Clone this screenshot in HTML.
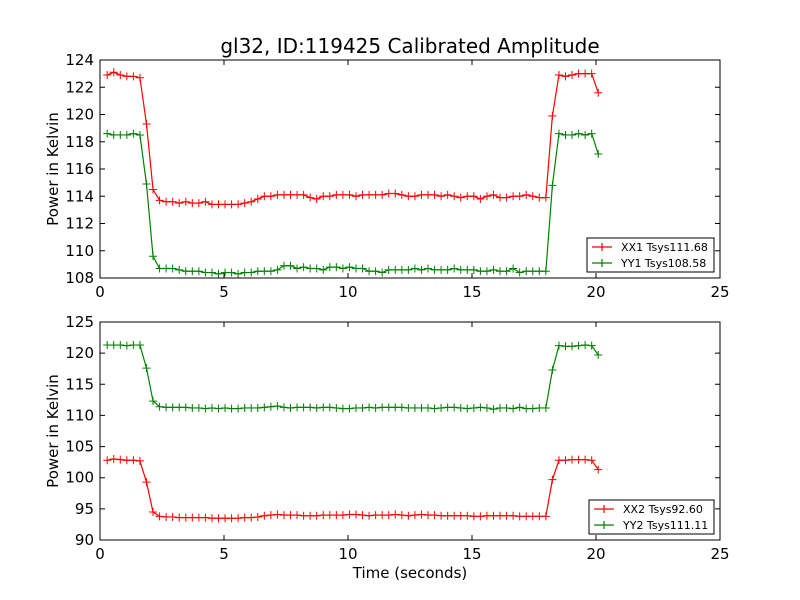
<!DOCTYPE html>
<html><head><meta charset="utf-8"><style>
body{margin:0;background:#fff;}
svg{display:block;font-family:"DejaVu Sans","Liberation Sans",sans-serif;}
</style></head><body>
<svg id="chart" width="800" height="600" viewBox="0 0 800 600">
<rect width="800" height="600" fill="#fff"/>
<text x="410" y="53" font-size="20" text-anchor="middle">gl32, ID:119425 Calibrated Amplitude</text>
<text x="410" y="578" font-size="15" text-anchor="middle">Time (seconds)</text>
</svg>
<script>
const xTicks=[0,5,10,15,20,25];
const topYTicks=[108,110,112,114,116,118,120,122,124];
const botYTicks=[90,95,100,105,110,115,120,125];
const timeStart=0.29, timeStep=0.264;
const xx1=[122.9,123.1,122.9,122.8,122.8,122.7,119.3,114.5,
113.7,113.6,113.6,113.5,113.6,113.5,113.5,113.6,113.4,113.4,
113.4,113.4,113.4,113.5,113.6,113.8,114.0,114.0,114.1,114.1,
114.1,114.1,114.1,113.9,113.8,114.0,114.0,114.1,114.1,114.1,
114.0,114.1,114.1,114.1,114.1,114.2,114.2,114.1,114.0,114.0,
114.1,114.1,114.1,114.0,114.1,114.0,113.9,114.0,114.0,113.8,
114.0,114.1,113.9,113.9,114.0,114.0,114.1,114.0,113.9,113.9,
119.9,122.9,122.8,122.9,123.0,123.0,123.0,121.6];
const yy1=[118.6,118.5,118.5,118.5,118.6,118.5,114.9,109.6,
108.7,108.7,108.7,108.6,108.5,108.5,108.5,108.4,108.4,108.3,
108.4,108.4,108.3,108.4,108.4,108.5,108.5,108.5,108.6,108.9,
108.9,108.7,108.8,108.7,108.7,108.6,108.8,108.8,108.7,108.8,
108.7,108.7,108.5,108.5,108.4,108.6,108.6,108.6,108.6,108.7,
108.6,108.7,108.6,108.6,108.6,108.7,108.6,108.6,108.6,108.5,
108.5,108.6,108.5,108.5,108.7,108.4,108.5,108.5,108.5,108.5,
114.8,118.6,118.5,118.5,118.6,118.5,118.6,117.1];
const xx2=[102.8,103.0,102.9,102.8,102.8,102.7,99.3,94.5,
93.8,93.7,93.7,93.6,93.6,93.6,93.6,93.6,93.5,93.5,
93.5,93.5,93.5,93.6,93.6,93.7,93.9,94.0,94.1,94.0,
94.0,94.0,93.9,93.9,93.9,94.0,94.0,94.0,94.0,94.1,
94.1,94.0,93.9,94.0,94.0,94.0,94.1,94.0,93.9,94.0,
94.1,94.0,94.0,93.9,93.9,93.9,93.9,93.9,93.8,93.8,
93.9,93.9,93.9,93.9,93.9,93.8,93.8,93.8,93.8,93.8,
99.7,102.8,102.8,102.9,102.9,102.9,102.8,101.3];
const yy2=[121.3,121.3,121.3,121.2,121.3,121.3,117.6,112.3,
111.4,111.3,111.3,111.3,111.3,111.2,111.2,111.1,111.2,111.1,
111.2,111.1,111.1,111.2,111.2,111.2,111.3,111.4,111.5,111.3,
111.2,111.3,111.3,111.3,111.2,111.3,111.3,111.2,111.1,111.1,
111.2,111.2,111.3,111.2,111.3,111.3,111.3,111.3,111.2,111.2,
111.2,111.2,111.1,111.2,111.3,111.3,111.2,111.1,111.2,111.3,
111.2,111.0,111.2,111.2,111.1,111.3,111.1,111.1,111.2,111.2,
117.3,121.2,121.1,121.1,121.2,121.3,121.2,119.7];
const legend1=["XX1 Tsys111.68","YY1 Tsys108.58"];
const legend2=["XX2 Tsys92.60","YY2 Tsys111.11"];

const NS="http://www.w3.org/2000/svg";
const svg=document.getElementById('chart');
function mk(tag,attrs,parent){const e=document.createElementNS(NS,tag);for(const k in attrs)e.setAttribute(k,attrs[k]);(parent||svg).appendChild(e);return e;}

function panel(name,top,bottom,ymin,ymax,yTicks,series,colors,legendLabels,legBox){
  const L=100,R=720;
  const g=mk('g',{});
  
  
  const sx=v=>L+(v-0)/(25-0)*(R-L);
  const sy=v=>bottom-(v-ymin)/(ymax-ymin)*(bottom-top);
  series.forEach((arr,si)=>{
    const pts=arr.map((v,i)=>[sx(timeStart+i*timeStep),sy(v)]);
    const pl=mk('polyline',{points:pts.map(p=>p.join(',')).join(' '),fill:'none',stroke:colors[si],'stroke-width':1.2},g);
    
    
    pts.forEach(p=>{
      const m=mk('path',{d:`M${p[0]-4},${p[1]}H${p[0]+4}M${p[0]},${p[1]-4}V${p[1]+4}`,stroke:colors[si],'stroke-width':1},g);
      
      
    });
  });
  const fr=mk('rect',{x:L,y:top,width:R-L,height:bottom-top,fill:'none',stroke:'#000','stroke-width':1},g);
  
  
  xTicks.forEach(t=>{
    const x=sx(t);
    mk('path',{d:`M${x},${bottom}v-5M${x},${top}v5`,stroke:'#000'},g);
    const tx=mk('text',{x:x,y:bottom+19,'font-size':15,'text-anchor':'middle'},g);
    tx.textContent=t;
    
    
  });
  yTicks.forEach(t=>{
    const y=sy(t);
    mk('path',{d:`M${L},${y}h5M${R},${y}h-5`,stroke:'#000'},g);
    const tx=mk('text',{x:L-6,y:y+5,'font-size':15,'text-anchor':'end'},g);
    tx.textContent=t;
    
    
  });
  const yt=mk('text',{x:58,y:(top+bottom)/2,'font-size':15,'text-anchor':'middle',transform:`rotate(-90 58 ${(top+bottom)/2})`},g);
  yt.textContent='Power in Kelvin';
  
  
  const lg=mk('g',{},g);
  
  
  mk('rect',{x:legBox[0],y:legBox[1],width:legBox[2],height:34,fill:'#fff',stroke:'#000'},lg);
  legendLabels.forEach((lab,i)=>{
    const y=legBox[1]+9+i*16;
    const x0=legBox[0]+5;
    mk('path',{d:`M${x0},${y}h20M${x0+10},${y-4}v8`,stroke:colors[i],'stroke-width':1.2},lg);
    const tx=mk('text',{x:x0+29,y:y+4,'font-size':11},lg);
    tx.textContent=lab;
    
    
  });
}
panel('top-panel',60,278,108,124,topYTicks,[xx1,yy1],['#ff0000','#008000'],legend1,[587,238,127]);
panel('bottom-panel',322,540,90,125,botYTicks,[xx2,yy2],['#ff0000','#008000'],legend2,[589,500,125]);
</script>
</body></html>
